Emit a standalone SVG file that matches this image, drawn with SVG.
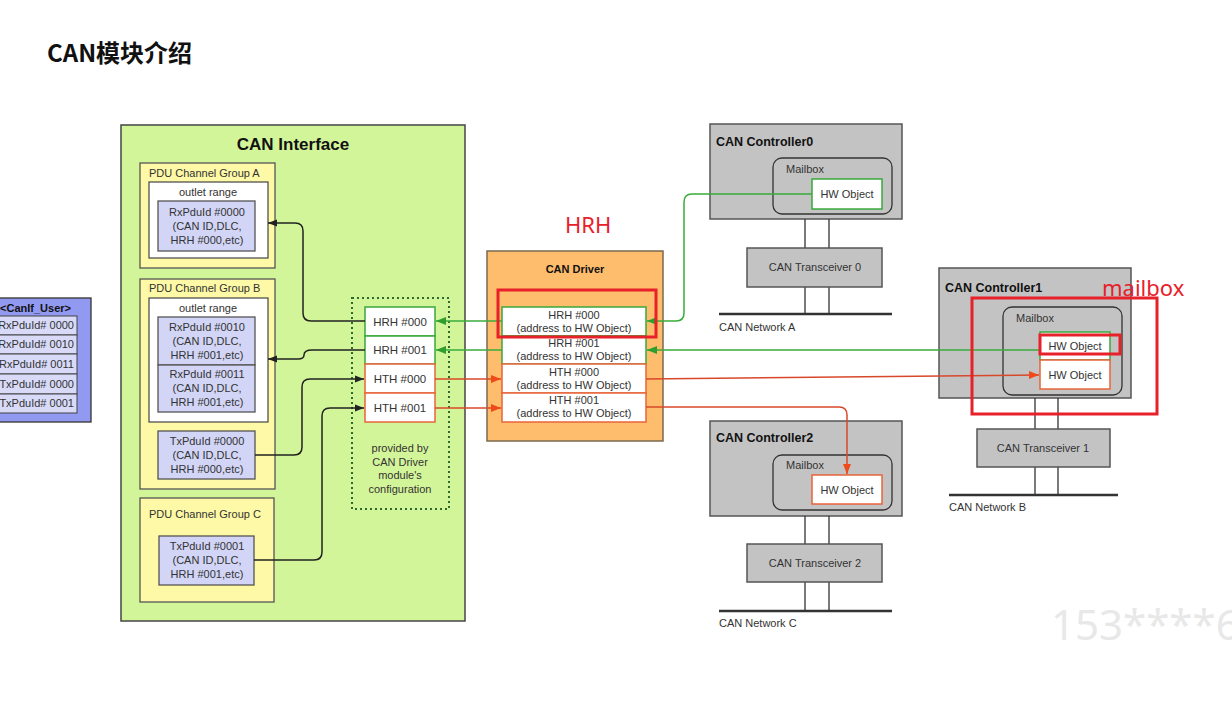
<svg xmlns="http://www.w3.org/2000/svg" width="1232" height="706" viewBox="0 0 1232 706">
<defs>
<style>
text{font-family:"Liberation Sans",Arial,"Noto Sans CJK SC",sans-serif;fill:#333}
.t11{font-size:11px}
.c{text-anchor:middle}
.b{font-weight:bold;fill:#111}
.grp{fill:#fdf9a6;stroke:#555;stroke-width:1.3}
.wht{fill:#fff;stroke:#444;stroke-width:1.2}
.lav{fill:#d2d5f6;stroke:#555;stroke-width:1.3}
.ctl{fill:#c3c3c3;stroke:#555;stroke-width:1.5}
.mb{fill:#c3c3c3;stroke:#333;stroke-width:1.3}
.gbox{fill:#fff;stroke:#3aa83a;stroke-width:1.5}
.rbox{fill:#fff;stroke:#e8643a;stroke-width:1.5}
.wire{stroke:#333;stroke-width:1.3;fill:none}
.bus{stroke:#333;stroke-width:2.5;fill:none}
.k{stroke:#222;stroke-width:1.5;fill:none}
.g{stroke:#3aac3a;stroke-width:1.5;fill:none}
.r{stroke:#d8482a;stroke-width:1.5;fill:none}
.hl{fill:none;stroke:#e8202a;stroke-width:3}
.ann{fill:#e8202a;font-size:22px}
</style>
<marker id="ak" viewBox="0 0 10 10" refX="10" refY="5" markerWidth="9" markerHeight="9" markerUnits="userSpaceOnUse" orient="auto"><path d="M0,1 L10,5 L0,9 z" fill="#222"/></marker>
<marker id="ag" viewBox="0 0 10 10" refX="10" refY="5" markerWidth="10" markerHeight="10" markerUnits="userSpaceOnUse" orient="auto"><path d="M0,1 L10,5 L0,9 z" fill="#2e9e2e"/></marker>
<marker id="ar" viewBox="0 0 10 10" refX="10" refY="5" markerWidth="10" markerHeight="10" markerUnits="userSpaceOnUse" orient="auto"><path d="M0,1 L10,5 L0,9 z" fill="#f04a1a"/></marker>
</defs>
<rect width="1232" height="706" fill="#fff"/>
<text x="47" y="62" style="font-size:24px;font-weight:bold;fill:#111;font-family:'Noto Sans CJK SC','Liberation Sans',sans-serif">CAN模块介绍</text>

<g id="canif-user">
<rect x="-4" y="298" width="95" height="124" fill="#9299f0" stroke="#333" stroke-width="1.3"/>
<text x="71" y="312" class="t11 b" text-anchor="end">&lt;CanIf_User&gt;</text>
<rect x="-4" y="316" width="81" height="19" fill="#d8daf8" stroke="#444"/>
<rect x="-4" y="335" width="81" height="19" fill="#d8daf8" stroke="#444"/>
<rect x="-4" y="354" width="81" height="20" fill="#d8daf8" stroke="#444"/>
<rect x="-4" y="374" width="81" height="20" fill="#d8daf8" stroke="#444"/>
<rect x="-4" y="394" width="81" height="19" fill="#d8daf8" stroke="#444"/>
<text x="74" y="329" class="t11" text-anchor="end">RxPduId# 0000</text>
<text x="74" y="348" class="t11" text-anchor="end">RxPduId# 0010</text>
<text x="74" y="368" class="t11" text-anchor="end">RxPduId# 0011</text>
<text x="74" y="388" class="t11" text-anchor="end">TxPduId# 0000</text>
<text x="74" y="407" class="t11" text-anchor="end">TxPduId# 0001</text>
</g>

<g id="can-interface">
<rect x="121" y="125" width="344" height="496" fill="#d3f59a" stroke="#444" stroke-width="1.5"/>
<text x="293" y="150" class="c b" style="font-size:17px">CAN Interface</text>
</g>

<g id="group-a">
<rect x="140" y="163" width="135" height="105" class="grp"/>
<text x="149" y="177" class="t11">PDU Channel Group A</text>
<rect x="149" y="182" width="119" height="76" class="wht"/>
<text x="208" y="196" class="t11 c">outlet range</text>
<rect x="158" y="201" width="97" height="50" class="lav"/>
<text x="207" y="216" class="t11 c">RxPduId #0000</text>
<text x="207" y="230" class="t11 c">(CAN ID,DLC,</text>
<text x="207" y="244" class="t11 c">HRH #000,etc)</text>
</g>

<g id="group-b">
<rect x="140" y="279" width="135" height="210" class="grp"/>
<text x="149" y="292" class="t11">PDU Channel Group B</text>
<rect x="149" y="298" width="119" height="124" class="wht"/>
<text x="208" y="312" class="t11 c">outlet range</text>
<rect x="158" y="317" width="97" height="48" class="lav"/>
<text x="207" y="331" class="t11 c">RxPduId #0010</text>
<text x="207" y="345" class="t11 c">(CAN ID,DLC,</text>
<text x="207" y="359" class="t11 c">HRH #001,etc)</text>
<rect x="158" y="365" width="97" height="47" class="lav"/>
<text x="207" y="378" class="t11 c">RxPduId #0011</text>
<text x="207" y="392" class="t11 c">(CAN ID,DLC,</text>
<text x="207" y="406" class="t11 c">HRH #001,etc)</text>
<rect x="158" y="431" width="97" height="48" class="lav"/>
<text x="207" y="445" class="t11 c">TxPduId #0000</text>
<text x="207" y="459" class="t11 c">(CAN ID,DLC,</text>
<text x="207" y="473" class="t11 c">HRH #000,etc)</text>
</g>

<g id="group-c">
<rect x="140" y="498" width="134" height="104" class="grp"/>
<text x="149" y="518" class="t11">PDU Channel Group C</text>
<rect x="159" y="536" width="95" height="49" class="lav"/>
<text x="207" y="550" class="t11 c">TxPduId #0001</text>
<text x="207" y="564" class="t11 c">(CAN ID,DLC,</text>
<text x="207" y="578" class="t11 c">HRH #001,etc)</text>
</g>

<g id="canif-handles">
<rect x="352" y="298" width="97" height="211" fill="none" stroke="#2f6a2f" stroke-width="2" stroke-dasharray="2,3"/>
<rect x="365" y="307" width="70" height="29" class="gbox"/>
<rect x="365" y="336" width="70" height="28" class="gbox"/>
<rect x="365" y="364" width="70" height="29" class="rbox"/>
<rect x="365" y="393" width="70" height="29" class="rbox"/>
<text x="400" y="326" class="c" style="font-size:11.5px">HRH #000</text>
<text x="400" y="354" class="c" style="font-size:11.5px">HRH #001</text>
<text x="400" y="383" class="c" style="font-size:11.5px">HTH #000</text>
<text x="400" y="412" class="c" style="font-size:11.5px">HTH #001</text>
<text x="400" y="452" class="t11 c">provided by</text>
<text x="400" y="466" class="t11 c">CAN Driver</text>
<text x="400" y="479" class="t11 c">module's</text>
<text x="400" y="493" class="t11 c">configuration</text>
</g>

<g id="can-driver">
<rect x="487" y="251" width="176" height="190" fill="#fdbd6c" stroke="#7a6a50" stroke-width="1.5"/>
<text x="575" y="273" class="t11 c b">CAN Driver</text>
<rect x="502" y="307" width="144" height="29" class="gbox"/>
<rect x="502" y="336" width="144" height="28" class="gbox"/>
<rect x="502" y="364" width="144" height="29" class="rbox"/>
<rect x="502" y="393" width="144" height="29" class="rbox"/>
<text x="574" y="319" class="t11 c">HRH #000</text>
<text x="574" y="332" class="t11 c">(address to HW Object)</text>
<text x="574" y="347" class="t11 c">HRH #001</text>
<text x="574" y="360" class="t11 c">(address to HW Object)</text>
<text x="574" y="376" class="t11 c">HTH #000</text>
<text x="574" y="389" class="t11 c">(address to HW Object)</text>
<text x="574" y="404" class="t11 c">HTH #001</text>
<text x="574" y="417" class="t11 c">(address to HW Object)</text>
</g>

<g id="controller0">
<rect x="710" y="124" width="192" height="95" class="ctl"/>
<text x="716" y="146" class="b" style="font-size:12.5px">CAN Controller0</text>
<rect x="773" y="158" width="119" height="56" rx="9" class="mb"/>
<text x="786" y="173" class="t11">Mailbox</text>
<rect x="812" y="179" width="70" height="30" class="gbox"/>
<text x="847" y="198" class="t11 c">HW Object</text>
<path d="M805,219 V248 M829,219 V248 M805,287 V314 M829,287 V314" class="wire"/>
<rect x="747" y="248" width="135" height="39" class="ctl"/>
<text x="815" y="271" class="t11 c">CAN Transceiver 0</text>
<path d="M719,314 H892" class="bus"/>
<text x="719" y="331" class="t11">CAN Network A</text>
</g>

<g id="controller1">
<rect x="939" y="268" width="192" height="130" class="ctl"/>
<text x="945" y="292" class="b" style="font-size:12.5px">CAN Controller1</text>
<rect x="1003" y="307" width="119" height="88" rx="9" class="mb"/>
<text x="1016" y="322" class="t11">Mailbox</text>
<rect x="1040" y="332" width="70" height="28" class="gbox"/>
<text x="1075" y="350" class="t11 c">HW Object</text>
<rect x="1040" y="360" width="70" height="29" class="rbox"/>
<text x="1075" y="379" class="t11 c">HW Object</text>
<path d="M1035,398 V429 M1058,398 V429 M1035,467 V495 M1058,467 V495" class="wire"/>
<rect x="977" y="429" width="133" height="38" class="ctl"/>
<text x="1043" y="452" class="t11 c">CAN Transceiver 1</text>
<path d="M949,495 H1118" class="bus"/>
<text x="949" y="511" class="t11">CAN Network B</text>
</g>

<g id="controller2">
<rect x="710" y="421" width="192" height="95" class="ctl"/>
<text x="716" y="442" class="b" style="font-size:12.5px">CAN Controller2</text>
<rect x="773" y="455" width="119" height="55" rx="9" class="mb"/>
<text x="786" y="469" class="t11">Mailbox</text>
<rect x="812" y="475" width="70" height="29" class="rbox"/>
<text x="847" y="494" class="t11 c">HW Object</text>
<path d="M805,516 V544 M829,516 V544 M805,582 V611 M829,582 V611" class="wire"/>
<rect x="747" y="544" width="135" height="38" class="ctl"/>
<text x="815" y="567" class="t11 c">CAN Transceiver 2</text>
<path d="M719,611 H892" class="bus"/>
<text x="719" y="627" class="t11">CAN Network C</text>
</g>

<g id="connectors">
<path d="M812,194 H692 Q684,194 684,202 V313 Q684,321 676,321 H647" class="g" marker-end="url(#ag)"/>
<path d="M1040,350 H647" class="g" marker-end="url(#ag)"/>
<path d="M502,321 H436" class="g" marker-end="url(#ag)"/>
<path d="M502,350 H436" class="g" marker-end="url(#ag)"/>
<path d="M435,379 H501" class="r" marker-end="url(#ar)"/>
<path d="M435,408 H501" class="r" marker-end="url(#ar)"/>
<path d="M646,379 L1039,375" class="r" marker-end="url(#ar)"/>
<path d="M646,407 H839 Q847,407 847,415 V474" class="r" marker-end="url(#ar)"/>
<path d="M365,321 H311 Q303,321 303,313 V231 Q303,223 295,223 H268" class="k" marker-end="url(#ak)"/>
<path d="M365,350 H312 Q304,350 304,355 Q304,359 298,359 H268" class="k" marker-end="url(#ak)"/>
<path d="M255,455 H294 Q302,455 302,447 V387 Q302,379 310,379 H364" class="k" marker-end="url(#ak)"/>
<path d="M254,560 H314 Q322,560 322,552 V416 Q322,408 330,408 H364" class="k" marker-end="url(#ak)"/>
</g>

<g id="annotations">
<rect x="498" y="290" width="158" height="47" class="hl"/>
<text x="565" y="233" class="ann" style="font-family:'Noto Sans','Liberation Sans',sans-serif">HRH</text>
<rect x="972" y="298" width="185" height="116" class="hl"/>
<rect x="1040" y="335" width="80" height="19" class="hl"/>
<text x="1102" y="296" class="ann" style="font-family:'Noto Sans','Liberation Sans',sans-serif">mailbox</text>
</g>

<text x="1051" y="640" style="font-size:42px;fill:#e8e8e8;font-family:'Noto Sans','Liberation Sans',sans-serif">153****61</text>
</svg>
